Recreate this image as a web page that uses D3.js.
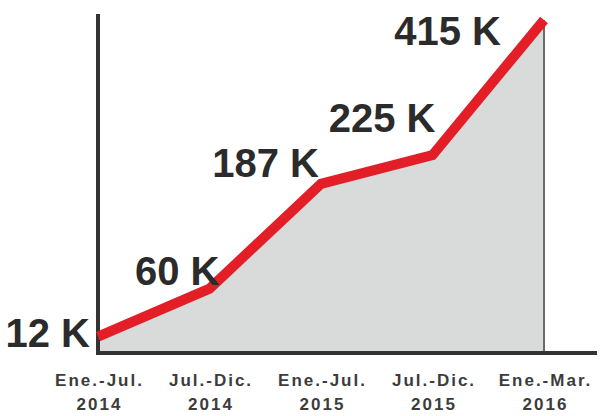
<!DOCTYPE html>
<html>
<head>
<meta charset="utf-8">
<script src="https://cdn.jsdelivr.net/npm/d3@7"></script>
<style>
  html, body { margin: 0; padding: 0; background: #ffffff; }
  svg { display: block; }
</style>
</head>
<body>
<svg id="chart" width="600" height="416"></svg>
<script>
// ---- data ----
const periods = ["Ene.-Jul. 2014", "Jul.-Dic. 2014", "Ene.-Jul. 2015", "Jul.-Dic. 2015", "Ene.-Mar. 2016"];
const periodLine1 = ["Ene.-Jul.", "Jul.-Dic.", "Ene.-Jul.", "Jul.-Dic.", "Ene.-Mar."];
const periodLine2 = ["2014", "2014", "2015", "2015", "2016"];
const values = [12, 60, 187, 225, 415];
const valueLabels = ["12 K", "60 K", "187 K", "225 K", "415 K"];

// ---- layout (not data) ----
const labelOffsets = [[-8, 10], [10, -4], [-2, -7], [3, -23], [-43, 25]];

const svg = d3.select("#chart");
const axisX = 98, axisY = 353, axisTop = 14, axisRight = 597;

const x = d3.scalePoint().domain(periods).range([98, 544]);
const y = d3.scalePow().exponent(0.85).domain([0, 415]).range([axisY, 20]);

const pts = values.map((v, i) => ({ p: periods[i], v, i }));

// gray area
const area = d3.area()
  .x(d => x(d.p))
  .y0(y(0))
  .y1(d => y(d.v));
svg.append("path")
  .datum(pts)
  .attr("d", area)
  .attr("fill", "#d9dbdb");

// vertical gray line at last point
const last = pts[pts.length - 1];
svg.append("line")
  .attr("x1", x(last.p)).attr("x2", x(last.p))
  .attr("y1", y(last.v)).attr("y2", y(0))
  .attr("stroke", "#6a6a6a").attr("stroke-width", 2);

// axes lines
svg.append("line")
  .attr("x1", axisX).attr("x2", axisX)
  .attr("y1", axisTop).attr("y2", axisY + 2)
  .attr("stroke", "#333333").attr("stroke-width", 4);
svg.append("line")
  .attr("x1", axisX - 2).attr("x2", axisRight)
  .attr("y1", axisY).attr("y2", axisY)
  .attr("stroke", "#333333").attr("stroke-width", 4);

// x axis tick labels via d3.axisBottom
const xAxis = d3.axisBottom(x).tickSize(0).tickFormat(() => "");
const gx = svg.append("g")
  .attr("transform", `translate(0, ${axisY})`)
  .call(xAxis);
gx.select(".domain").remove();
gx.selectAll(".tick text").remove();
gx.selectAll(".tick").each(function(d, i) {
  const t = d3.select(this).append("text")
    .attr("text-anchor", "middle")
    .attr("fill", "#3c3c3c")
    .style("font-family", "'Liberation Sans', Arial, sans-serif")
    .style("font-weight", "bold")
    .style("font-size", "17px")
    .style("letter-spacing", "2px");
  t.append("tspan").attr("x", 1).attr("y", 33).text(periodLine1[i]);
  t.append("tspan").attr("x", 1).attr("y", 57).text(periodLine2[i]);
});

// red line
const line = d3.line()
  .x(d => x(d.p))
  .y(d => y(d.v));
svg.append("path")
  .datum(pts)
  .attr("d", line)
  .attr("fill", "none")
  .attr("stroke", "#e31e26")
  .attr("stroke-width", 10)
  .attr("stroke-linejoin", "miter")
  .attr("stroke-linecap", "butt");

// value labels
svg.append("g").selectAll("text")
  .data(pts)
  .join("text")
  .attr("x", d => x(d.p) + labelOffsets[d.i][0])
  .attr("y", d => y(d.v) + labelOffsets[d.i][1])
  .attr("text-anchor", "end")
  .attr("fill", "#2b2b2b")
  .style("font-family", "'Liberation Sans', Arial, sans-serif")
  .style("font-weight", "bold")
  .style("font-size", "40px")
  .text(d => valueLabels[d.i]);
</script>
</body>
</html>
